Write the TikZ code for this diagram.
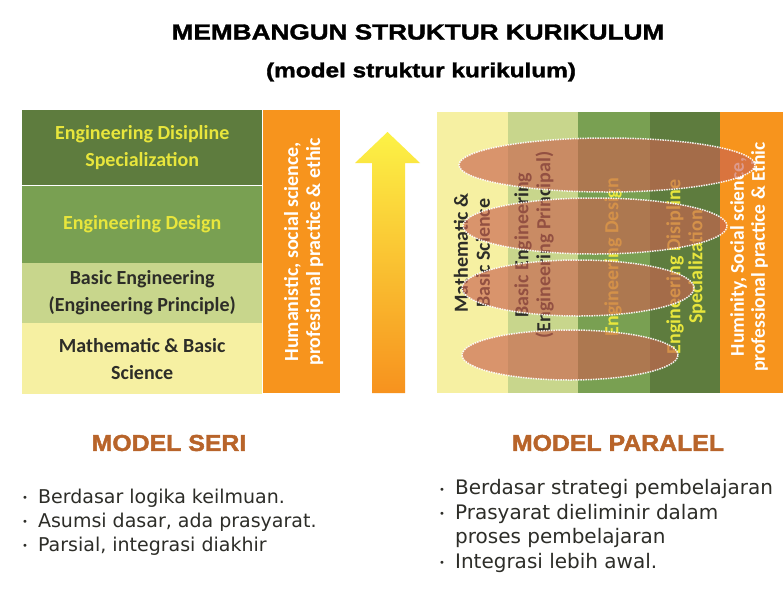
\documentclass[tikz,border=0pt]{standalone}
\usepackage{fontspec}
\setmainfont{Liberation Sans}
\newfontfamily\headfont[FakeStretch=1.2,FakeBold=1.6]{Liberation Sans Bold}
\newfontfamily\modelfont[FakeStretch=1.08,FakeBold=1.8]{Liberation Sans Bold}
\newfontfamily\cellfont{Carlito}
\newfontfamily\notefont{DejaVu Sans}
\usetikzlibrary{positioning,shapes.geometric}

\definecolor{darkleaf}{RGB}{94,124,62}
\definecolor{midleaf}{RGB}{121,160,82}
\definecolor{paleleaf}{RGB}{200,214,140}
\definecolor{paleyellow}{RGB}{246,240,162}
\definecolor{sideorange}{RGB}{247,148,29}
\definecolor{leafyellow}{RGB}{232,230,60}
\definecolor{inkgrey}{RGB}{45,45,40}
\definecolor{clay}{RGB}{202,100,80}
\definecolor{modelbrown}{RGB}{184,100,42}
\definecolor{arrowtop}{RGB}{252,242,70}
\definecolor{arrowmid}{RGB}{252,214,36}
\definecolor{arrowbot}{RGB}{247,146,30}
\newcommand{\itemdot}{{\fontsize{10}{10}\selectfont\raisebox{1.5pt}{•}}\hspace{10pt}}

\begin{document}
\begin{tikzpicture}[x=1pt, y=-1pt,
layer/.style={rectangle, inner sep=0pt, minimum width=240pt, align=center,
    font=\cellfont\bfseries\fontsize{20}{27}\selectfont},
column/.style={rectangle, inner sep=0pt, minimum height=281pt, anchor=north west},
sidetext/.style={rotate=90, align=center, inner sep=0pt,
    font=\cellfont\bfseries\fontsize{20}{22}\selectfont},
blob/.style={ellipse, inner sep=0pt, fill=clay, fill opacity=0.65,
    draw=white, draw opacity=0.9, densely dotted, line width=1.5pt},
modelname/.style={text=modelbrown, font=\modelfont\fontsize{23}{26}\selectfont},
notes/.style={anchor=west, align=left, inner sep=0pt,
    font=\notefont\fontsize{19}{24.2}\selectfont, text=inkgrey}
]
    \fill[white] (0,0) rectangle (783,592);
    \useasboundingbox (0,0) rectangle (783,592);

    %Titles
    \node[font=\headfont\fontsize{21.8}{24}\selectfont] 
        (title) at (418,32) {MEMBANGUN STRUKTUR KURIKULUM};
    \node[font=\headfont\fontsize{20.3}{22}\selectfont] 
        (subtitle) at (421,72) {(model struktur kurikulum)};

    %Model seri
    \node[layer, fill=darkleaf, text=leafyellow, minimum height=75pt, anchor=north west]
        (spec) at (22,110) {Engineering Disipline\\Specialization};
    \node[layer, fill=midleaf, text=leafyellow, minimum height=77pt]
        (design) [below=0pt of spec] {Engineering Design};
    \node[layer, fill=paleleaf, text=inkgrey, minimum height=60pt]
        (basic) [below=0pt of design] {Basic Engineering\\(Engineering Principle)};
    \node[layer, fill=paleyellow, text=inkgrey, minimum height=71pt]
        (math) [below=0pt of basic] {Mathematic \& Basic\\Science};
    \node[rectangle, inner sep=0pt, fill=sideorange, minimum width=77pt, minimum height=283pt,
        anchor=north west] (human) at (263,110) {};
    \node[sidetext, text=white] (humantext) at ([xshift=2pt]human.center)
        {Humanistic, social science,\\profesional practice \& ethic};

    %Arrow
    \shade[top color=arrowtop, middle color=arrowmid, bottom color=arrowbot]
        (372,393) -- (372,163) -- (355,163) -- (387.5,132) -- (420,163)
        -- (405,163) -- (405,393) -- cycle;

    %Model paralel
    \node[column, fill=paleyellow, minimum width=71pt] (c1) at (437,112) {};
    \node[column, fill=paleleaf, minimum width=70pt] (c2) at (508,112) {};
    \node[column, fill=midleaf, minimum width=72pt] (c3) at (578,112) {};
    \node[column, fill=darkleaf, minimum width=70pt] (c4) at (650,112) {};
    \node[column, fill=sideorange, minimum width=63pt] (c5) at (720,112) {};

    \node[sidetext, text=inkgrey] (t1) at (472,253) {Mathematic \&\\Basic Science};
    \node[sidetext, text=inkgrey] (t2) at (534,245) {Basic Engineering\\(Engineering Principal)};
    \node[sidetext, text=leafyellow] (t3) at (613,257) {Engineering Design};
    \node[sidetext, text=leafyellow] (t4) at (686,267) {Engineering Disipline\\Specialization};
    \node[sidetext, text=white, font=\cellfont\bfseries\fontsize{19.5}{21}\selectfont]
        (t5) at (749,257) {Huminity, Social science,\\professional practice \& Ethic};

    \node[blob, minimum width=296pt, minimum height=54pt] (e1) at (607,165) {};
    \node[blob, minimum width=264pt, minimum height=56pt] (e2) at (595,226) {};
    \node[blob, minimum width=232pt, minimum height=56pt] (e3) at (578,288) {};
    \node[blob, minimum width=216pt, minimum height=50pt] (e4) at (570,355) {};

    %Notes
    \node[modelname] (seri) at (169,443) {MODEL SERI};
    \node[modelname] (paralel) at (618,443) {MODEL PARALEL};

    \node[notes] (serinotes) at (22,522)
        {\itemdot Berdasar logika keilmuan.\\
         \itemdot Asumsi dasar, ada prasyarat.\\
         \itemdot Parsial, integrasi diakhir};
    \node[notes, font=\notefont\fontsize{20}{24.5}\selectfont] (paralelnotes) at (439,526)
        {\itemdot Berdasar strategi pembelajaran\\
         \itemdot Prasyarat dieliminir dalam\\
         \phantom{\itemdot}proses pembelajaran\\
         \itemdot Integrasi lebih awal.};
\end{tikzpicture}
\end{document}
